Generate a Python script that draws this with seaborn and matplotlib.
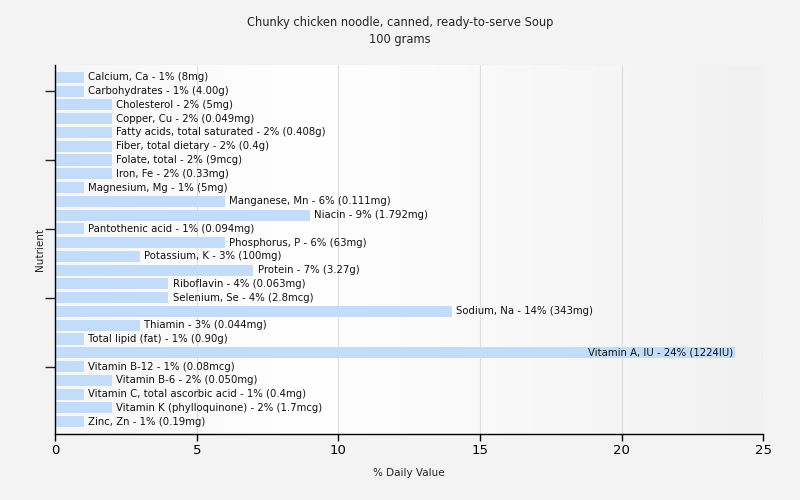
import numpy as np
import pandas as pd
import matplotlib
matplotlib.use("Agg")
import matplotlib.pyplot as plt
from matplotlib.colors import LinearSegmentedColormap
import seaborn as sns

nutrients = [
    "Calcium, Ca", "Carbohydrates", "Cholesterol", "Copper, Cu",
    "Fatty acids, total saturated", "Fiber, total dietary", "Folate, total",
    "Iron, Fe", "Magnesium, Mg", "Manganese, Mn", "Niacin", "Pantothenic acid",
    "Phosphorus, P", "Potassium, K", "Protein", "Riboflavin", "Selenium, Se",
    "Sodium, Na", "Thiamin", "Total lipid (fat)", "Vitamin A, IU",
    "Vitamin B-12", "Vitamin B-6", "Vitamin C, total ascorbic acid",
    "Vitamin K (phylloquinone)", "Zinc, Zn",
]
daily_value = [1, 1, 2, 2, 2, 2, 2, 2, 1, 6, 9, 1, 6, 3, 7, 4, 4, 14, 3, 1, 24,
               1, 2, 1, 2, 1]
amounts = [
    "8mg", "4.00g", "5mg", "0.049mg", "0.408g", "0.4g", "9mcg", "0.33mg",
    "5mg", "0.111mg", "1.792mg", "0.094mg", "63mg", "100mg", "3.27g",
    "0.063mg", "2.8mcg", "343mg", "0.044mg", "0.90g", "1224IU", "0.08mcg",
    "0.050mg", "0.4mg", "1.7mcg", "0.19mg",
]

df = pd.DataFrame({"Nutrient": nutrients, "DV": daily_value, "Amount": amounts})

sns.set_style("white")
plt.rcParams["font.family"] = ["DejaVu Sans"]

fig = plt.figure(figsize=(8, 5), dpi=100)
fig.patch.set_facecolor("#f3f3f3")
ax = fig.add_axes([0.069, 0.132, 0.885, 0.738])

sns.barplot(data=df, x="DV", y="Nutrient", orient="h", color="#c2dcfa",
            width=0.8, saturation=1, linewidth=0, edgecolor="none",
            ax=ax, zorder=2)

# soft horizontal gradient behind the plot
bg_cmap = LinearSegmentedColormap.from_list(
    "bg", [(0, "#f6f6f6"), (0.35, "#ffffff"), (1, "#f1f1f1")], N=256)
ax.imshow(np.tile(np.linspace(0, 1, 256), (2, 1)), cmap=bg_cmap,
          aspect="auto", extent=[0, 25, 25.9, -0.9], zorder=0)
ax.set_xlim(0, 25)
ax.set_ylim(25.9, -0.9)

for i, row in df.iterrows():
    label = f"{row['Nutrient']} - {row['DV']}% ({row['Amount']})"
    if row["DV"] > 20:
        ax.text(row["DV"] - 0.05, i, label, ha="right", va="center",
                fontsize=7.3, color="#111111", zorder=3)
    else:
        ax.text(row["DV"] + 0.15, i, label, ha="left", va="center",
                fontsize=7.3, color="#111111", zorder=3)

ax.set_xticks([0, 5, 10, 15, 20, 25])
ax.set_yticks([1, 6, 11, 16, 21])
ax.set_yticklabels([])
ax.xaxis.grid(True, color="#dddddd", linewidth=0.8, zorder=1)
ax.set_axisbelow(True)
ax.tick_params(axis="x", direction="out", length=5, width=1, labelsize=9.5,
               bottom=True, colors="black", pad=2)
ax.tick_params(axis="y", direction="out", length=7, width=1, left=True)
for side in ["top", "right"]:
    ax.spines[side].set_visible(False)
for side in ["left", "bottom"]:
    ax.spines[side].set_color("black")
    ax.spines[side].set_linewidth(1)

ax.set_xlabel("% Daily Value", fontsize=7.5, labelpad=8)
ax.set_ylabel("Nutrient", fontsize=7.5, labelpad=-3)
fig.text(0.5, 0.955, "Chunky chicken noodle, canned, ready-to-serve Soup",
         ha="center", va="center", fontsize=8.3)
fig.text(0.5, 0.92, "100 grams", ha="center", va="center", fontsize=8.3)

fig.savefig("out.png", dpi=100, facecolor=fig.get_facecolor())
